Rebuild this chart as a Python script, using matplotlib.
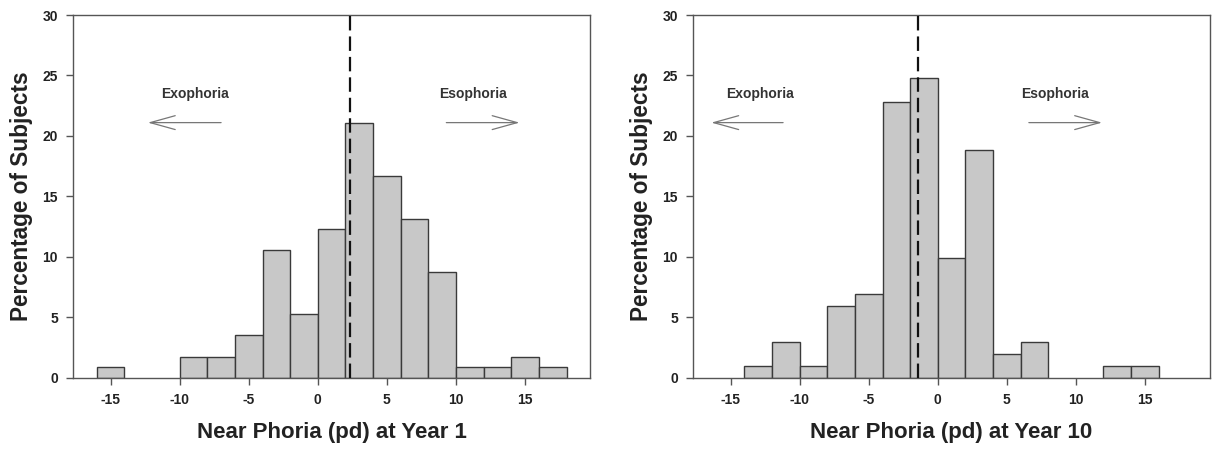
import matplotlib
matplotlib.use("Agg")
import matplotlib.pyplot as plt

plt.rcParams["font.family"] = ["Liberation Sans", "DejaVu Sans"]
plt.rcParams["font.weight"] = "bold"
plt.rcParams["axes.unicode_minus"] = False

# ── data (bin left edges, bin width 2 pd) ─────────────────────────────────────
bin_width = 2
y1_edges = [-16, -10, -8, -6, -4, -2, 0, 2, 4, 6, 8, 10, 12, 14, 16]
y1_pct   = [0.88, 1.75, 1.75, 3.51, 10.53, 5.26, 12.28, 21.05, 16.67, 13.16,
            8.77, 0.88, 0.88, 1.75, 0.88]
y1_mean  = 2.36

y10_edges = [-14, -12, -10, -8, -6, -4, -2, 0, 2, 4, 6, 12, 14]
y10_pct   = [0.99, 2.97, 0.99, 5.94, 6.93, 22.77, 24.75, 9.90, 18.81, 1.98,
             2.97, 0.99, 0.99]
y10_mean  = -1.4

panels = [
    (y1_edges, y1_pct, y1_mean, "Near Phoria (pd) at Year 1",
     (-8.9, 23.5), (-7.0, -12.3), (11.2, 23.5), (9.3, 14.6)),
    (y10_edges, y10_pct, y10_mean, "Near Phoria (pd) at Year 10",
     (-12.9, 23.5), (-11.2, -16.4), (8.5, 23.5), (6.6, 11.9)),
]

fig = plt.figure(figsize=(12.13, 4.51), dpi=100)
ax_boxes = [[0.0604, 0.1625, 0.4260, 0.8042],
            [0.5716, 0.1625, 0.4257, 0.8042]]

for box, (edges, pct, mean, xlabel, exo_txt, exo_arr, eso_txt, eso_arr) in zip(ax_boxes, panels):
    ax = fig.add_axes(box)
    ax.bar(edges, pct, width=bin_width, align="edge",
           color="#c8c8c8", edgecolor="#3a3a3a", linewidth=1.0, zorder=2)
    ax.axvline(mean, ymin=0, ymax=1, color="#111111", lw=1.6,
               dashes=(6.5, 2.7), zorder=3)

    ax.set_xlim(-17.7, 19.7)
    ax.set_ylim(0, 30)
    ax.set_xticks([-15, -10, -5, 0, 5, 10, 15])
    ax.set_yticks([0, 5, 10, 15, 20, 25, 30])

    # direction annotations
    ax.text(exo_txt[0], exo_txt[1], "Exophoria", ha="center", va="center",
            fontsize=10, color="#333333")
    ax.text(eso_txt[0], eso_txt[1], "Esophoria", ha="center", va="center",
            fontsize=10, color="#333333")
    for x0, x1 in (exo_arr, eso_arr):
        ax.annotate("", xy=(x1, 21.1), xytext=(x0, 21.1),
                    arrowprops=dict(arrowstyle="->,head_length=1.8,head_width=0.5",
                                    color="#777777", lw=0.9, shrinkA=0, shrinkB=0))

    ax.set_xlabel(xlabel, fontsize=16, fontweight="bold", color="#222222", labelpad=11)
    ax.set_ylabel("Percentage of Subjects", fontsize=16.3, fontweight="bold",
                  color="#222222", labelpad=7)

    for sp in ax.spines.values():
        sp.set_color("#555555")
        sp.set_linewidth(1.0)
    ax.tick_params(direction="out", length=5, width=1, color="#555555",
                   labelsize=10, labelcolor="#222222", pad=6)
    for lab in ax.get_xticklabels() + ax.get_yticklabels():
        lab.set_fontweight("bold")

plt.savefig("out.png", dpi=100)
